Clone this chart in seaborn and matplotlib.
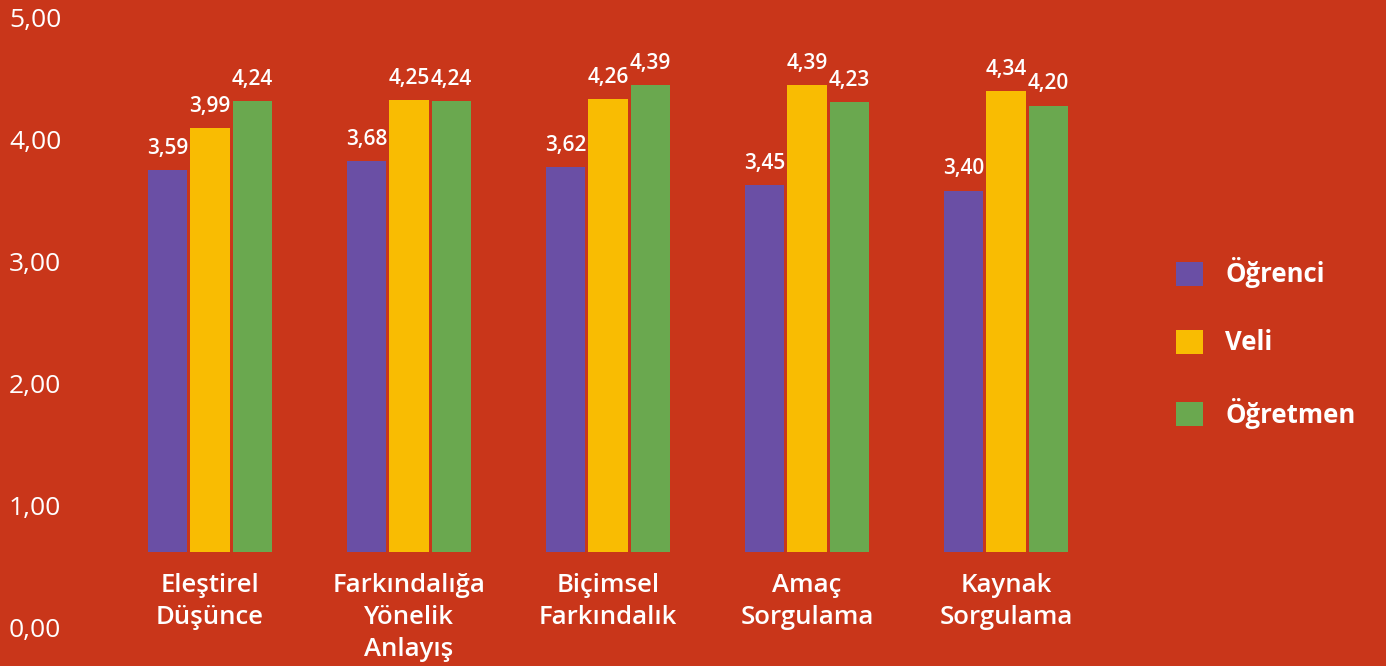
import numpy as np
import pandas as pd
import matplotlib
matplotlib.use("Agg")
import matplotlib.pyplot as plt
import seaborn as sns

# data
kategoriler = ["Eleştirel\nDüşünce", "Farkındalığa\nYönelik\nAnlayış", "Biçimsel\nFarkındalık",
               "Amaç\nSorgulama", "Kaynak\nSorgulama"]
gruplar = ["Öğrenci", "Veli", "Öğretmen"]
ogrenci = [3.59, 3.68, 3.62, 3.45, 3.40]
veli = [3.99, 4.25, 4.26, 4.39, 4.34]
ogretmen = [4.24, 4.24, 4.39, 4.23, 4.20]
eksen_etiketleri = ["0,00", "1,00", "2,00", "3,00", "4,00", "5,00"]

renkler = ["#6A4FA5", "#F9BC02", "#6AA84F"]
arka = "#C9361A"

df = pd.DataFrame({
    "kategori": kategoriler * 3,
    "grup": np.repeat(gruplar, len(kategoriler)),
    "puan": ogrenci + veli + ogretmen,
})

sns.set_theme(style="white")
plt.rcParams['font.family'] = ['Open Sans', 'DejaVu Sans']

W, H = 1386, 666
fig = plt.figure(figsize=(W / 100, H / 100), dpi=100, facecolor=arka)

# bars axis: baseline at y=552px, ~106 px per unit
ax = fig.add_axes([110.5 / W, 114 / H, 995 / W, 531.5 / H])
ax.set_facecolor(arka)
sns.barplot(data=df, x="kategori", y="puan", hue="grup", palette=renkler,
            width=0.64, gap=0.08, saturation=1, edgecolor="none", ax=ax)
ax.set_xlim(-0.5, 4.5)
ax.set_ylim(0, 5)
for cont in ax.containers:
    ax.bar_label(cont, labels=[f"{v:.2f}".replace(".", ",") for v in cont.datavalues],
                 padding=8, color="white", fontsize=15, fontweight="semibold")
ax.set_xlabel("")
ax.set_ylabel("")
ax.set_yticks([])
ax.tick_params(axis="x", length=0, pad=15)
for lab in ax.get_xticklabels():
    lab.set_color("white")
    lab.set_fontsize(18.5)
    lab.set_fontweight("semibold")
    lab.set_linespacing(1.36)
sns.despine(ax=ax, left=True, bottom=True)

leg = ax.legend(loc="center left", bbox_to_anchor=(1166 / W, 323 / H), bbox_transform=fig.transFigure,
                frameon=False, fontsize=18.5, handlelength=1.05, handleheight=1.05,
                handletextpad=0.85, labelspacing=1.6, borderaxespad=0)
for t in leg.get_texts():
    t.set_color("white")
    t.set_fontweight("bold")

# value-axis labels drawn on their own scale, as in the original
ax2 = fig.add_axes([8 / W, 39 / H, 1 / W, 609 / H])
ax2.set_facecolor("none")
ax2.set_ylim(0, 5)
ax2.set_yticks(range(6))
ax2.set_yticklabels(eksen_etiketleri)
ax2.set_xticks([])
ax2.tick_params(axis="y", left=False, labelleft=False, right=False, labelright=True,
                length=0, pad=0, labelsize=19, labelcolor="white")
for s in ax2.spines.values():
    s.set_visible(False)

fig.savefig("out.png", dpi=100, facecolor=arka)
